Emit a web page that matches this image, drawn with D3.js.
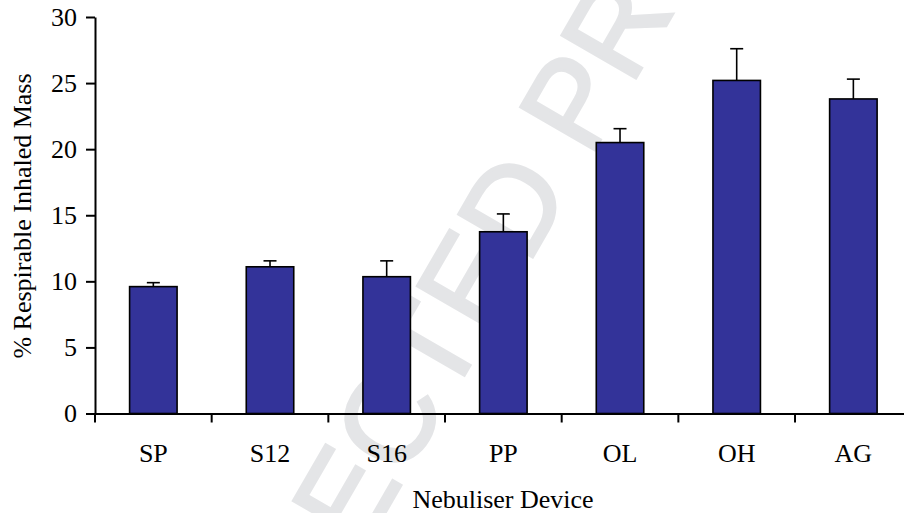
<!DOCTYPE html>
<html>
<head>
<meta charset="utf-8">
<script src="https://cdn.jsdelivr.net/npm/d3@7"></script>
<style>
  html, body { margin: 0; padding: 0; background: #fff; }
  svg { display: block; }
</style>
</head>
<body>
<svg id="chart" width="904" height="513"></svg>
<script>
const categories = ["SP", "S12", "S16", "PP", "OL", "OH", "AG"];
const values = [9.6, 11.1, 10.35, 13.75, 20.5, 25.2, 23.8];
const errors = [0.3, 0.45, 1.2, 1.35, 1.05, 2.4, 1.5];
const yTicks = [0, 5, 10, 15, 20, 25, 30];
const xTitle = "Nebuliser Device";
const yTitle = "% Respirable Inhaled Mass";
const watermark = "UNCORRECTED PROOF";

const svg = d3.select("#chart");
const font = "'Liberation Serif', 'Times New Roman', serif";

// watermark (cut by the page edges, as in the reference)
svg.append("text")
  .attr("transform", "translate(450,400) rotate(-60)")
  .attr("text-anchor", "middle")
  .attr("font-family", "'Liberation Sans', Arial, sans-serif")
  .attr("font-size", 124)
  .attr("fill", "#e4e5e7")
  .attr("stroke", "#e4e5e7")
  .attr("stroke-width", 3)
  .text(watermark);

const x = d3.scaleBand().domain(categories).range([95, 911.7]).padding(0);
const y = d3.scaleLinear().domain([0, 30]).range([413.5, 17]);
const barW = x.bandwidth() * 0.407;

// bars
svg.append("g").selectAll("rect").data(categories).join("rect")
  .attr("x", (d) => x(d) + x.bandwidth() / 2 - barW / 2)
  .attr("y", (d, i) => y(values[i]))
  .attr("width", barW)
  .attr("height", (d, i) => y(0) - y(values[i]))
  .attr("fill", "#333399")
  .attr("stroke", "#000")
  .attr("stroke-width", 1.6);

// error bars (upper only)
const eg = svg.append("g").attr("stroke", "#000").attr("stroke-width", 1.6);
categories.forEach((c, i) => {
  const cx = x(c) + x.bandwidth() / 2;
  eg.append("line").attr("x1", cx).attr("x2", cx)
    .attr("y1", y(values[i])).attr("y2", y(values[i] + errors[i]));
  eg.append("line").attr("x1", cx - 6.5).attr("x2", cx + 6.5)
    .attr("y1", y(values[i] + errors[i])).attr("y2", y(values[i] + errors[i]));
});

// y axis
const yAxis = svg.append("g").attr("transform", "translate(95,0)")
  .call(d3.axisLeft(y).tickValues(yTicks).tickSize(9).tickPadding(9).tickSizeOuter(0));
yAxis.select(".domain").attr("stroke", "#000").attr("stroke-width", 2);
yAxis.selectAll(".tick line").attr("stroke", "#000").attr("stroke-width", 2);
yAxis.selectAll(".tick text").attr("font-family", font).attr("font-size", 26).attr("fill", "#000");

// x axis: labels at centers, ticks at band boundaries
const xAxis = svg.append("g").attr("transform", `translate(0,${y(0)})`)
  .call(d3.axisBottom(x).tickSize(0).tickPadding(30).tickSizeOuter(0));
xAxis.select(".domain").attr("stroke", "#000").attr("stroke-width", 2);
xAxis.selectAll(".tick text").attr("font-family", font).attr("font-size", 26).attr("fill", "#000");
xAxis.selectAll(".boundary").data(categories).join("line")
  .attr("class", "boundary")
  .attr("x1", (d) => x(d)).attr("x2", (d) => x(d))
  .attr("y1", 0).attr("y2", 9)
  .attr("stroke", "#000").attr("stroke-width", 2);

// titles
svg.append("text")
  .attr("x", 503).attr("y", 508)
  .attr("text-anchor", "middle")
  .attr("font-family", font).attr("font-size", 26)
  .text(xTitle);

svg.append("text")
  .attr("transform", "translate(31,216) rotate(-90)")
  .attr("text-anchor", "middle")
  .attr("font-family", font).attr("font-size", 26)
  .text(yTitle);
</script>
</body>
</html>
